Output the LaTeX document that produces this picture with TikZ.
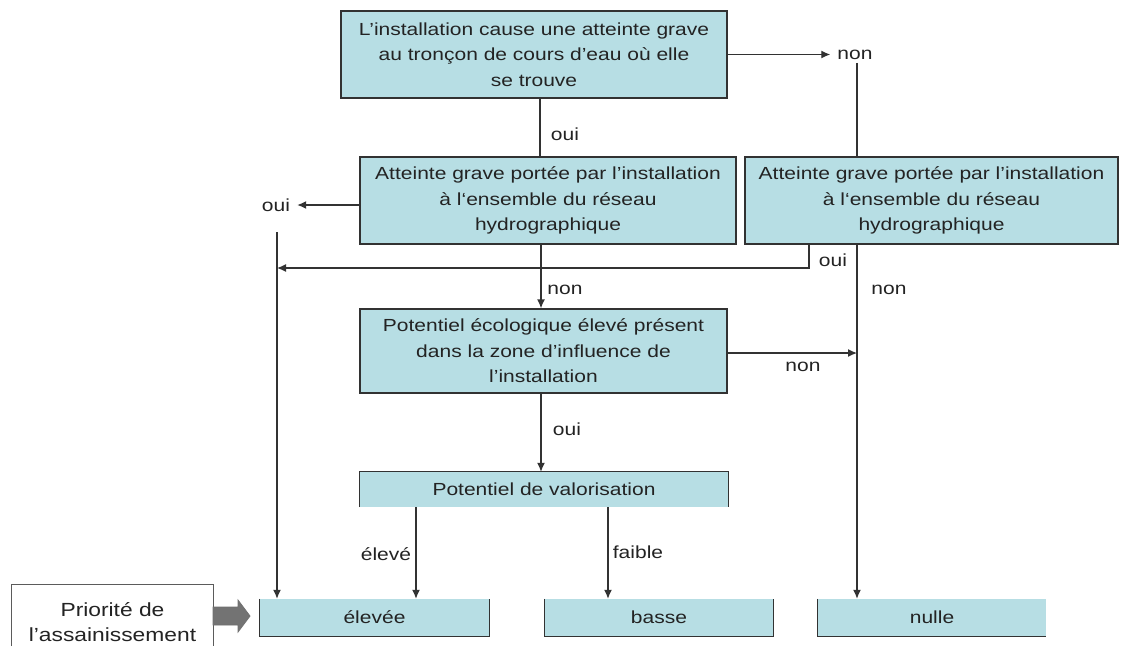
\documentclass[tikz,border=0pt]{standalone}
\usepackage{fontspec}
\setmainfont[FakeStretch=1.2]{Liberation Sans}
\usetikzlibrary{arrows.meta}
\definecolor{boxfill}{RGB}{183,222,228}
\definecolor{ln}{RGB}{50,50,50}
\definecolor{txt}{RGB}{35,35,35}
\definecolor{blockgray}{RGB}{115,115,115}
\begin{document}
\begin{tikzpicture}[x=1pt,y=-1pt,
  every node/.style={text=txt,font=\fontsize{17.5}{25.5}\selectfont},
  box/.style={fill=boxfill,draw=ln,line width=1.3pt,align=center,inner sep=0pt},
  flatbox/.style={fill=boxfill,draw=none,align=center,inner sep=0pt},
  bd/.style={draw=ln,line width=1.3pt},
  lab/.style={inner xsep=7pt,inner ysep=3pt},
  ln/.style={draw=ln,line width=1.3pt},
  arr/.style={draw=ln,line width=1.3pt,-{Latex[length=9pt,width=8pt]}}]
\useasboundingbox (0,0) rectangle (1124,646);
\fill[white] (0,0) rectangle (1124,646);

% boxes
\node[box,minimum width=386pt,minimum height=87pt] (t1) at (534,54.5)
  {L’installation cause une atteinte grave\\au tronçon de cours d’eau où elle\\se trouve};
\node[box,minimum width=376pt,minimum height=87pt] (m1) at (548,200.5)
  {Atteinte grave portée par l’installation\\à l‘ensemble du réseau\\hydrographique};
\node[box,minimum width=373pt,minimum height=87pt] (m2) at (931.5,200.5)
  {Atteinte grave portée par l’installation\\à l‘ensemble du réseau\\hydrographique};
\node[box,minimum width=367pt,minimum height=84pt] (pe) at (543.5,351)
  {Potentiel écologique élevé présent\\dans la zone d’influence de\\l’installation};
\node[flatbox,minimum width=368pt,minimum height=35pt] (pv) at (544,489.5)
  {Potentiel de valorisation};
\draw[bd] (pv.south west) -- (pv.north west) -- (pv.north east) -- (pv.south east);
\node[flatbox,minimum width=229pt,minimum height=37pt] (e) at (374.5,617.5) {élevée};
\node[flatbox,minimum width=228pt,minimum height=37pt] (b) at (659,617.5) {basse};
\node[flatbox,minimum width=228pt,minimum height=37pt] (nl) at (932,617.5) {nulle};
\draw[bd] (e.north west) -- (e.south west) -- (e.south east) -- (e.north east);
\draw[bd] (b.north west) -- (b.south west) -- (b.south east) -- (b.north east);
\draw[bd] (nl.north west) -- (nl.south west) -- (nl.south east);

% legend box and block arrow
\node[draw=none,fill=white,align=center,inner sep=0pt,minimum width=201pt,minimum height=74pt,
  font=\fontsize{19}{25}\selectfont] (pr) at (112.5,622)
  {Priorité de\\l’assainissement};
\coordinate (prbot) at (0,646);
\draw[draw=ln!80,line width=1.3pt] (pr.west |- prbot) -- (pr.north west) -- (pr.north east) -- (pr.east |- prbot);
\draw[fill=blockgray,draw=ln!70,line width=0.8pt]
  (213,607) -- (238,607) -- (238,600) -- (250,616) -- (238,632) -- (238,625) -- (213,625) -- cycle;

% labels
\node[lab] (n1) at (855,55) {non};
\node[lab] (o1) at (565,134) {oui};
\node[lab] (o2) at (276,205) {oui};
\node[lab] (o3) at (833,260) {oui};
\node[lab] (n2) at (565,290) {non};
\node[lab] (n3) at (889,290) {non};
\node[lab] (n4) at (803,367) {non};
\node[lab] (o4) at (567,429) {oui};
\node[lab] (l1) at (386,554) {élevé};
\node[lab] (l2) at (638,552) {faible};

% helper coordinates
\coordinate (x540) at (540,0);
\coordinate (x541) at (541,0);
\coordinate (x857) at (857,0);
\coordinate (x416) at (416,0);
\coordinate (x608) at (608,0);
\coordinate (lvtop) at (277,232);
\coordinate (c809) at (809,268);
\coordinate (pen) at (857,353);

% connectors
\draw[arr] (t1.east) -- (t1.east -| n1.west);
\draw[ln] (n1.south -| x857) -- (m2.north -| x857);
\draw[ln] (t1.south -| x540) -- (m1.north -| x540);
\draw[arr] (m1.west |- o2) -- (o2.east);
\draw[arr] (lvtop) -- (lvtop |- e.north);
\draw[arr] (m2.south -| c809) -- (c809) -- (c809 -| lvtop);
\draw[arr] (m1.south -| x541) -- (pe.north -| x541);
\draw[arr] (m2.south -| x857) -- (nl.north -| x857);
\draw[arr] (pe.east |- pen) -- (pen);
\draw[arr] (pe.south -| x541) -- (pv.north -| x541);
\draw[arr] (pv.south -| x416) -- (e.north -| x416);
\draw[arr] (pv.south -| x608) -- (b.north -| x608);
\end{tikzpicture}
\end{document}
